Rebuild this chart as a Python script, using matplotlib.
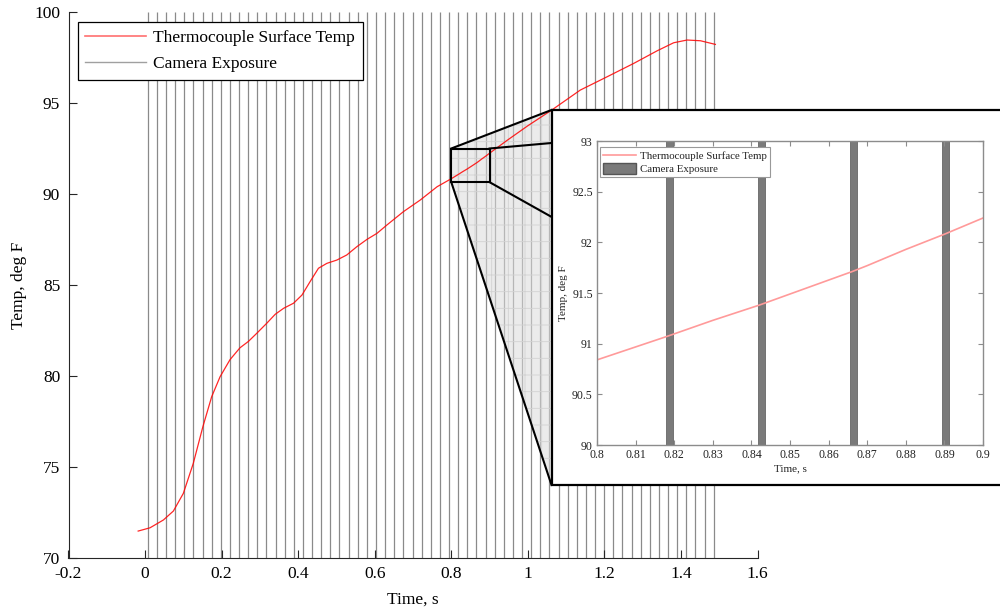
import matplotlib
matplotlib.use('Agg')
from matplotlib import pyplot as plt
from matplotlib.patches import Rectangle, PathPatch, Patch
from matplotlib.path import Path
from matplotlib.lines import Line2D
import numpy as np

plt.rcParams['font.family'] = ['Liberation Serif', 'DejaVu Serif']
plt.rcParams['hatch.linewidth'] = 0.6

# thermocouple trace
time_s = [-0.018, 0.013, 0.048, 0.074, 0.100, 0.126, 0.151, 0.174, 0.196, 0.222,
          0.248, 0.270, 0.292, 0.318, 0.340, 0.362, 0.388, 0.410, 0.431, 0.453,
          0.475, 0.501, 0.527, 0.553, 0.580, 0.606, 0.632, 0.675, 0.719, 0.763,
          0.800, 0.818, 0.830, 0.842, 0.850, 0.866, 0.870, 0.880, 0.890, 0.900,
          0.946, 1.000, 1.063, 1.137, 1.207, 1.277, 1.338, 1.381, 1.416, 1.451, 1.490]
temp_f = [71.48, 71.66, 72.09, 72.58, 73.55, 75.20, 77.21, 78.86, 79.96, 80.90,
          81.55, 81.90, 82.35, 82.90, 83.39, 83.72, 84.00, 84.45, 85.18, 85.92,
          86.19, 86.37, 86.65, 87.10, 87.51, 87.84, 88.30, 89.03, 89.67, 90.40,
          90.84, 91.07, 91.23, 91.38, 91.49, 91.71, 91.77, 91.93, 92.08, 92.24,
          92.95, 93.75, 94.62, 95.71, 96.44, 97.18, 97.87, 98.31, 98.46, 98.42, 98.22]

# camera exposure start times
exposure_times = [0.0070, 0.0309, 0.0547, 0.0786, 0.1024, 0.1263, 0.1501, 0.1740,
                  0.1978, 0.2217, 0.2455, 0.2694, 0.2932, 0.3171, 0.3409, 0.3648,
                  0.3886, 0.4125, 0.4363, 0.4602, 0.4840, 0.5079, 0.5317, 0.5556,
                  0.5794, 0.6033, 0.6271, 0.6510, 0.6748, 0.6987, 0.7225, 0.7464,
                  0.7702, 0.7941, 0.8179, 0.8418, 0.8656, 0.8895, 0.9133, 0.9372,
                  0.9610, 0.9849, 1.0087, 1.0326, 1.0564, 1.0803, 1.1041, 1.1280,
                  1.1518, 1.1757, 1.1995, 1.2234, 1.2472, 1.2711, 1.2949, 1.3188,
                  1.3426, 1.3665, 1.3903, 1.4142, 1.4380, 1.4619, 1.4857]
exposure_len = 0.00176

xticks_main = [-0.2, 0, 0.2, 0.4, 0.6, 0.8, 1, 1.2, 1.4, 1.6]
yticks_main = [70, 75, 80, 85, 90, 95, 100]
xticks_zoom = [0.8, 0.81, 0.82, 0.83, 0.84, 0.85, 0.86, 0.87, 0.88, 0.89, 0.9]
yticks_zoom = [90, 90.5, 91, 91.5, 92, 92.5, 93]
zoom_box = (0.8, 0.9, 90.65, 92.5)

W, H = 1000, 613
fig = plt.figure(figsize=(10, 6.13), dpi=100)

def fr(x0, y0, x1, y1):
    return [x0 / W, 1 - y1 / H, (x1 - x0) / W, (y1 - y0) / H]

ax = fig.add_axes(fr(68.5, 12, 757.5, 558))
ax.vlines(exposure_times, 70, 100, color='#8a8a8a', lw=0.9, zorder=1)
ax.plot(time_s, temp_f, color='red', lw=0.9, alpha=0.85, zorder=3)
ax.set_xlim(-0.2, 1.6)
ax.set_ylim(70, 100)
ax.set_xticks(xticks_main)
ax.set_xticklabels(['-0.2', '0', '0.2', '0.4', '0.6', '0.8', '1', '1.2', '1.4', '1.6'])
ax.set_yticks(yticks_main)
for s in ['top', 'right']:
    ax.spines[s].set_visible(False)
for s in ['left', 'bottom']:
    ax.spines[s].set_color('#262626')
    ax.spines[s].set_linewidth(0.8)
ax.tick_params(direction='in', length=6, width=0.8, labelsize=12.5, colors='#262626',
               labelcolor='black', pad=6)
ax.set_xlabel('Time, s', fontsize=12.5, labelpad=7)
ax.set_ylabel('Temp, deg F', fontsize=12.5, labelpad=5)

h = [Line2D([], [], color='#ff7070', lw=1.2), Line2D([], [], color='#a0a0a0', lw=1.0)]
leg = ax.legend(h, ['Thermocouple Surface Temp', 'Camera Exposure'], loc='upper left',
                bbox_to_anchor=(77.5 / W, 1 - 22.5 / H), bbox_transform=fig.transFigure,
                fontsize=12.5, handlelength=3.5, handletextpad=0.4, borderpad=0.45,
                labelspacing=0.55, fancybox=False, framealpha=1, borderaxespad=0)
leg.get_frame().set_edgecolor('black')
leg.get_frame().set_linewidth(0.9)

# zoom connection, drawn in figure fractions on top of the main axes
x0, x1, y0, y1 = zoom_box
fx0, fy0, fx1, fy1 = 551.5, 110, 1004, 485
to_fig = fig.transFigure.inverted()
def d2f(x, y):
    return to_fig.transform(ax.transData.transform((x, y)))
def p2f(x, y):
    return (x / W, 1 - y / H)

tl, bl, tr, br = d2f(x0, y1), d2f(x0, y0), d2f(x1, y1), d2f(x1, y0)
itl, ibl = p2f(fx0, fy0), p2f(fx0, fy1)
iml, imb = p2f(fx0, fy0 + 0.088 * (fy1 - fy0)), p2f(fx0, fy0 + 0.285 * (fy1 - fy0))

outer = [tl, itl, ibl, bl, tl]
inner = [tl, bl, br, tr, tl]
verts = outer + inner[::-1]
codes = [Path.MOVETO] + [Path.LINETO] * 3 + [Path.CLOSEPOLY] + [Path.MOVETO] + [Path.LINETO] * 3 + [Path.CLOSEPOLY]
shade = PathPatch(Path(verts, codes), facecolor=(0.86, 0.86, 0.86, 0.55), edgecolor='#d2d2d2',
                  hatch='+', lw=0, transform=fig.transFigure, zorder=2, clip_on=False)
ax.add_artist(shade)
for a, b in [(tl, itl), (bl, ibl), (tr, iml), (br, imb)]:
    ax.add_artist(Line2D([a[0], b[0]], [a[1], b[1]], color='black', lw=1.5,
                         transform=fig.transFigure, zorder=4, clip_on=False))
ax.add_patch(Rectangle((x0, y0), x1 - x0, y1 - y0, fill=False, ec='black', lw=1.5, zorder=5))

# inset frame
frame = Rectangle(p2f(fx0, fy1), (fx1 - fx0) / W, (fy1 - fy0) / H, facecolor='white',
                  edgecolor='black', lw=1.6, transform=fig.transFigure, zorder=1.6)
fig.patches.append(frame)

# inset axes
axi = fig.add_axes(fr(597, 141, 983, 445), zorder=2)
for t in exposure_times:
    axi.axvspan(t, t + exposure_len, color='#7a7a7a', lw=0.6, ec='#666666')
axi.plot(time_s, temp_f, color='#ff9a9a', lw=1.2)
axi.set_xlim(0.8, 0.9)
axi.set_ylim(90, 93)
axi.set_xticks(xticks_zoom)
axi.set_xticklabels(['0.8', '0.81', '0.82', '0.83', '0.84', '0.85', '0.86', '0.87', '0.88', '0.89', '0.9'])
axi.set_yticks(yticks_zoom)
axi.set_yticklabels(['90', '90.5', '91', '91.5', '92', '92.5', '93'])
for s in axi.spines.values():
    s.set_color('#8c8c8c')
    s.set_linewidth(1.0)
axi.tick_params(direction='in', length=3.5, width=0.8, colors='#8c8c8c', labelcolor='#222222',
                labelsize=8.5, top=True, right=True, pad=3)
axi.set_xlabel('Time, s', fontsize=8, color='#222222', labelpad=2)
axi.set_ylabel('Temp, deg F', fontsize=8, color='#222222', labelpad=3)
hi = [Line2D([], [], color='#ff9a9a', lw=1.2), Patch(facecolor='#7a7a7a', edgecolor='#555555')]
legi = axi.legend(hi, ['Thermocouple Surface Temp', 'Camera Exposure'], loc='upper left',
                  bbox_to_anchor=(600 / W, 1 - 147 / H), bbox_transform=fig.transFigure,
                  fontsize=7.8, handlelength=3.0, handleheight=1.1, handletextpad=0.4,
                  borderpad=0.3, labelspacing=0.2, fancybox=False, framealpha=1, borderaxespad=0)
legi.get_frame().set_edgecolor('#999999')
legi.get_frame().set_linewidth(0.8)
for txt in legi.get_texts():
    txt.set_color('#222222')

fig.savefig('out.png', dpi=100)
